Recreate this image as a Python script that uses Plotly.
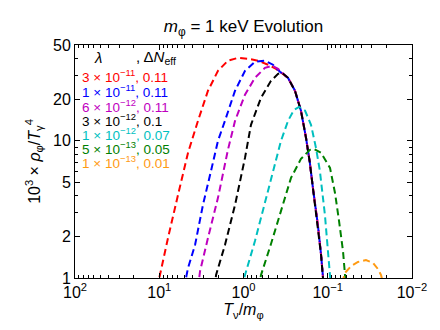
import plotly.graph_objects as go

# ---- data ----
red_T = [10.6, 9.89, 7.87, 5.99, 4.56, 3.47, 2.64, 2.01, 1.53, 1.16, 0.885, 0.673, 0.512, 0.411, 0.369,
         0.296, 0.245, 0.208, 0.181, 0.163, 0.150, 0.131, 0.120, 0.114, 0.111]
red_rho = [0.845, 1.03, 1.96, 4.03, 8.17, 14.0, 23.2, 32.4, 38.4, 40.3, 39.7, 38.4, 35.9, 33.5, 31.9,
           28.8, 23.2, 16.6, 10.5, 6.91, 4.54, 2.44, 1.47, 1.0, 0.845]

blue_T = [5.08, 4.56, 3.76, 3.03, 2.43, 2.01, 1.66, 1.26, 0.960, 0.731, 0.556, 0.447, 0.369,
          0.296, 0.245, 0.208, 0.181, 0.163, 0.150, 0.131, 0.120, 0.114, 0.111]
blue_rho = [0.845, 1.18, 1.74, 3.41, 6.04, 10.0, 14.0, 23.2, 32.4, 37.7, 38.4, 35.9, 31.9,
            28.8, 23.2, 16.6, 10.5, 6.91, 4.54, 2.44, 1.47, 1.0, 0.845]

magenta_T = [3.47, 3.28, 2.64, 2.01, 1.53, 1.26, 0.960, 0.731, 0.556, 0.459, 0.389,
             0.296, 0.245, 0.208, 0.181, 0.163, 0.150, 0.131, 0.120, 0.114, 0.111]
magenta_rho = [0.845, 1.12, 1.96, 3.84, 8.6, 14.0, 21.7, 28.8, 34.1, 35.3, 33.5,
               28.8, 23.2, 16.6, 10.5, 6.91, 4.54, 2.44, 1.47, 1.0, 0.845]

black_T = [2.18, 2.12, 1.66, 1.26, 0.960, 0.815, 0.620, 0.472, 0.389, 0.349,
           0.296, 0.245, 0.208, 0.181, 0.163, 0.150, 0.131, 0.120, 0.114, 0.111]
black_rho = [0.845, 1.05, 1.74, 3.41, 7.51, 13.1, 20.6, 27.4, 30.8, 31.4,
             28.8, 23.2, 16.6, 10.5, 6.91, 4.54, 2.44, 1.47, 1.0, 0.845]

cyan_T = [1.04, 0.960, 0.731, 0.541, 0.435, 0.359, 0.296, 0.252, 0.219, 0.186, 0.158, 0.138,
          0.124, 0.108, 0.0993, 0.094, 0.0914]
cyan_rho = [0.845, 1.05, 1.86, 3.71, 6.35, 10.0, 14.0, 16.8, 17.7, 16.6, 13.1, 8.89,
            6.04, 2.88, 1.66, 1.05, 0.845]

green_T = [0.655, 0.620, 0.472, 0.359, 0.273, 0.208, 0.163, 0.146, 0.120, 0.094, 0.082, 0.0735,
           0.0659, 0.0624, 0.0607]
green_rho = [0.845, 1.05, 1.77, 3.14, 5.37, 7.39, 8.6, 8.74, 8.17, 6.35, 4.17, 2.61,
             1.57, 1.05, 0.845]

orange_T = [0.0677, 0.0624, 0.053, 0.0438, 0.0352, 0.0290, 0.0253, 0.0233, 0.0221]
orange_rho = [0.92, 1.09, 1.22, 1.31, 1.35, 1.29, 1.16, 1.05, 0.92]

lambda_labels = ["3 × 10<sup>−11</sup>", "1 × 10<sup>−11</sup>", "6 × 10<sup>−12</sup>",
                 "3 × 10<sup>−12</sup>", "1 × 10<sup>−12</sup>", "5 × 10<sup>−13</sup>",
                 "1 × 10<sup>−13</sup>"]
dneff_labels = ["0.11", "0.11", "0.11", "0.1", "0.07", "0.05", "0.01"]

x_tickvals = [100, 10, 1, 0.1, 0.01]
x_ticktext = ["10<sup>2</sup>", "10<sup>1</sup>", "10<sup>0</sup>", "10<sup>−1</sup>", "10<sup>−2</sup>"]
y_tickvals = [1, 2, 5, 10, 20, 50]
y_ticktext = ["1", "2", "5", "10", "20", "50"]

colors = ["#ff0000", "#0000ff", "#bf00bf", "#000000", "#00bfbf", "#008000", "#ff9a12"]
series = [(red_T, red_rho), (blue_T, blue_rho), (magenta_T, magenta_rho), (black_T, black_rho),
          (cyan_T, cyan_rho), (green_T, green_rho), (orange_T, orange_rho)]

FONT = "Liberation Sans, Arial, Helvetica, sans-serif"

fig = go.Figure()
for (xs, ys), c in zip(series, colors):
    fig.add_trace(go.Scatter(x=xs, y=ys, mode="lines",
                             line=dict(color=c, width=2, dash="7px,4px"),
                             showlegend=False, hoverinfo="skip"))

x_minor = [m * 10 ** e for e in [-2, -1, 0, 1] for m in range(2, 10)]
y_minor = [3, 4, 6, 7, 8, 9, 30, 40]

fig.update_layout(
    width=440, height=330,
    margin=dict(l=67, r=36, t=37, b=60),
    paper_bgcolor="white", plot_bgcolor="white",
    font=dict(family=FONT, size=16, color="black"),
    title=dict(text="<i>m</i><sub>φ</sub> = 1 keV Evolution", x=0.5, xref="paper",
               y=1 - 18 / 330, yref="container", xanchor="center", yanchor="middle",
               font=dict(size=17, family=FONT)),
    xaxis=dict(type="log", range=[2, -2], showgrid=False, zeroline=False,
               showline=True, linecolor="black", linewidth=1, mirror="ticks",
               ticks="inside", ticklen=5, tickcolor="black",
               tickmode="array", tickvals=x_tickvals, ticktext=x_ticktext,
               tickfont=dict(size=16),
               minor=dict(ticks="inside", ticklen=3, tickcolor="black",
                          tickmode="array", tickvals=x_minor, showgrid=False),
               title=dict(text="<i>T</i><sub>ν</sub>/<i>m</i><sub>φ</sub>", standoff=2,
                          font=dict(size=16))),
    yaxis=dict(type="log", range=[0, 1.69897], showgrid=False, zeroline=False,
               showline=True, linecolor="black", linewidth=1, mirror="ticks",
               ticks="inside", ticklen=5, tickcolor="black",
               tickmode="array", tickvals=y_tickvals, ticktext=y_ticktext,
               tickfont=dict(size=16),
               minor=dict(ticks="inside", ticklen=3, tickcolor="black",
                          tickmode="array", tickvals=y_minor, showgrid=False),
               title=dict(text="10<sup>3</sup> × <i>ρ</i><sub>φ</sub>/<i>T</i><sub>γ</sub><sup>4</sup>",
                          standoff=8, font=dict(size=16))),
)

# legend-like text block
PW, PH, L, B = 337.0, 233.0, 67.0, 270.0
def px(xp):
    return (xp - L) / PW
def py(yp):
    return (B - yp) / PH

fig.add_annotation(x=px(84), y=py(49), xref="paper", yref="paper", text="<i>λ</i>",
                   showarrow=False, xanchor="left", yanchor="middle",
                   font=dict(size=15, color="black", family=FONT))
fig.add_annotation(x=px(126), y=py(49), xref="paper", yref="paper",
                   text=", Δ<i>N</i><sub>eff</sub>",
                   showarrow=False, xanchor="left", yanchor="middle",
                   font=dict(size=15, color="black", family=FONT))
row_y = [68, 83, 97.5, 112, 126, 140, 154]
for lab, dn, c, yy in zip(lambda_labels, dneff_labels, colors, row_y):
    fig.add_annotation(x=px(72), y=py(yy), xref="paper", yref="paper",
                       text=f"{lab}, {dn}", showarrow=False,
                       xanchor="left", yanchor="middle",
                       font=dict(size=13.5, color=c, family=FONT))

fig.write_html("out.html")
